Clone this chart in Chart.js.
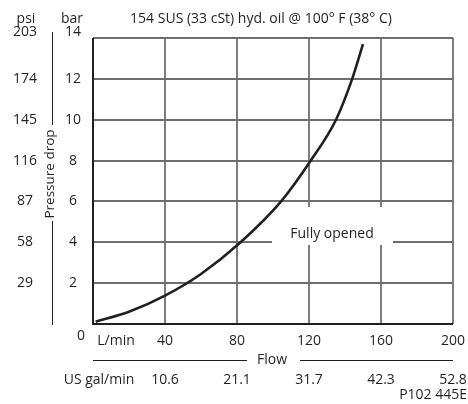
<!DOCTYPE html>
<html lang="en">
  <head>
    <meta charset="UTF-8" />
    <title>Pressure drop vs. flow</title>
    <script src="https://cdn.jsdelivr.net/npm/chart.js@4/dist/chart.umd.min.js"></script>
    <style>
      html, body { margin: 0; padding: 0; background: #fff; }
      #wrap { position: relative; width: 468px; height: 404px; }
    </style>
  </head>
  <body>
    <div id="wrap"><canvas id="chart" width="468" height="404"></canvas></div>

    <script>
      // curve: flow (L/min) vs pressure drop (bar)
      const flowLmin = [1.5, 20, 40, 60, 82, 104.5, 121, 135, 144, 150];
      const dropBar = [0.11, 0.6, 1.39, 2.45, 4, 6, 8, 10, 12, 13.7];

      // tick labels
      const barTicks = [2, 4, 6, 8, 10, 12, 14];
      const psiLabels = ["29", "58", "87", "116", "145", "174", "203"];
      const flowTicks = [40, 80, 120, 160, 200];
      const galLabels = ["10.6", "21.1", "31.7", "42.3", "52.8"];

      const FONT = "14px 'Open Sans', Lato, sans-serif";
      const TEXT = "#231f20";

      // grid + frame, drawn from the scales
      const gridPlugin = {
        id: "grid",
        beforeDatasetsDraw(chart) {
          const ctx = chart.ctx;
          const x = chart.scales.x;
          const y = chart.scales.y;
          const a = chart.chartArea;
          ctx.save();
          ctx.lineWidth = 1.8;
          ctx.strokeStyle = "#6e6e6e";
          barTicks.forEach((v) => {
            const py = Math.round(y.getPixelForValue(v));
            ctx.beginPath();
            ctx.moveTo(a.left, py);
            ctx.lineTo(a.right, py);
            ctx.stroke();
          });
          flowTicks.forEach((v) => {
            const px = Math.round(x.getPixelForValue(v));
            ctx.beginPath();
            ctx.moveTo(px, a.top);
            ctx.lineTo(px, a.bottom);
            ctx.stroke();
          });

          ctx.strokeStyle = "#231f20";
          ctx.lineWidth = 2;
          ctx.beginPath();
          ctx.moveTo(Math.round(a.left), Math.round(a.top));
          ctx.lineTo(Math.round(a.left), Math.round(a.bottom));
          ctx.lineTo(Math.round(a.right), Math.round(a.bottom));
          ctx.stroke();

          // white box behind "Fully opened"
          ctx.fillStyle = "#fff";
          ctx.fillRect(272, 207, 121, 38);
          ctx.font = FONT;
          ctx.fillStyle = TEXT;
          ctx.textAlign = "center";
          ctx.textBaseline = "middle";
          ctx.fillText("Fully opened", 332, 234);
          ctx.restore();
        },
      };

      const labelsPlugin = {
        id: "labels",
        afterDraw(chart) {
          const ctx = chart.ctx;
          const x = chart.scales.x;
          const y = chart.scales.y;
          const area = chart.chartArea;
          ctx.save();
          ctx.font = FONT;
          ctx.fillStyle = TEXT;
          ctx.textBaseline = "middle";
          ctx.textAlign = "center";

          // header line
          ctx.fillText("psi", 26, 19);
          ctx.fillText("bar", 72, 19);
          ctx.fillText("154 SUS (33 cSt) hyd. oil @ 100° F (38° C)", 261, 19);

          // y labels (bar + psi)
          barTicks.forEach((v, i) => {
            let py = y.getPixelForValue(v);
            if (v === 14) py -= 6;
            ctx.fillText(String(v), 73, py);
            ctx.fillText(psiLabels[i], 25, py);
          });
          ctx.fillText("0", 81, 336);

          // Pressure drop label with its line
          ctx.strokeStyle = TEXT;
          ctx.lineWidth = 1;
          ctx.beginPath();
          ctx.moveTo(52.5, 32);
          ctx.lineTo(52.5, 125);
          ctx.moveTo(52.5, 221);
          ctx.lineTo(52.5, area.bottom + 1);
          ctx.stroke();
          ctx.save();
          ctx.font = "13.5px 'Open Sans', Lato, sans-serif";
          ctx.translate(50, 174);
          ctx.rotate(-Math.PI / 2);
          ctx.fillText("Pressure drop", 0, 0);
          ctx.restore();

          // x labels
          ctx.fillText("L/min", 116, 341);
          ctx.fillText("US gal/min", 99, 380);
          flowTicks.forEach((v, i) => {
            const px = x.getPixelForValue(v);
            ctx.fillText(String(v), px, 341);
            ctx.fillText(galLabels[i], px, 380);
          });

          // Flow title with lines
          ctx.fillText("Flow", 272, 360);
          ctx.beginPath();
          ctx.moveTo(area.left, 360.5);
          ctx.lineTo(247, 360.5);
          ctx.moveTo(300, 360.5);
          ctx.lineTo(area.right, 360.5);
          ctx.stroke();

          ctx.textAlign = "right";
          ctx.fillText("P102 445E", 467, 395);
          ctx.restore();
        },
      };

      new Chart(document.getElementById("chart"), {
        type: "scatter",
        data: {
          datasets: [
            {
              data: flowLmin.map((f, i) => ({ x: f, y: dropBar[i] })),
              showLine: true,
              borderColor: "#231f20",
              borderWidth: 2.6,
              pointRadius: 0,
              cubicInterpolationMode: "monotone",
            },
          ],
        },
        options: {
          responsive: false,
          animation: false,
          layout: { padding: { left: 93, right: 15, top: 38, bottom: 80 } },
          plugins: { legend: { display: false }, tooltip: { enabled: false } },
          scales: {
            x: {
              type: "linear",
              min: 0,
              max: 200,
              ticks: { stepSize: 40, display: false },
              grid: { display: false, drawTicks: false, tickLength: 0 },
              border: { display: false },
            },
            y: {
              type: "linear",
              min: 0,
              max: 14,
              ticks: { stepSize: 2, display: false },
              grid: { display: false, drawTicks: false, tickLength: 0 },
              border: { display: false },
            },
          },
        },
        plugins: [gridPlugin, labelsPlugin],
      });
    </script>
  </body>
</html>
